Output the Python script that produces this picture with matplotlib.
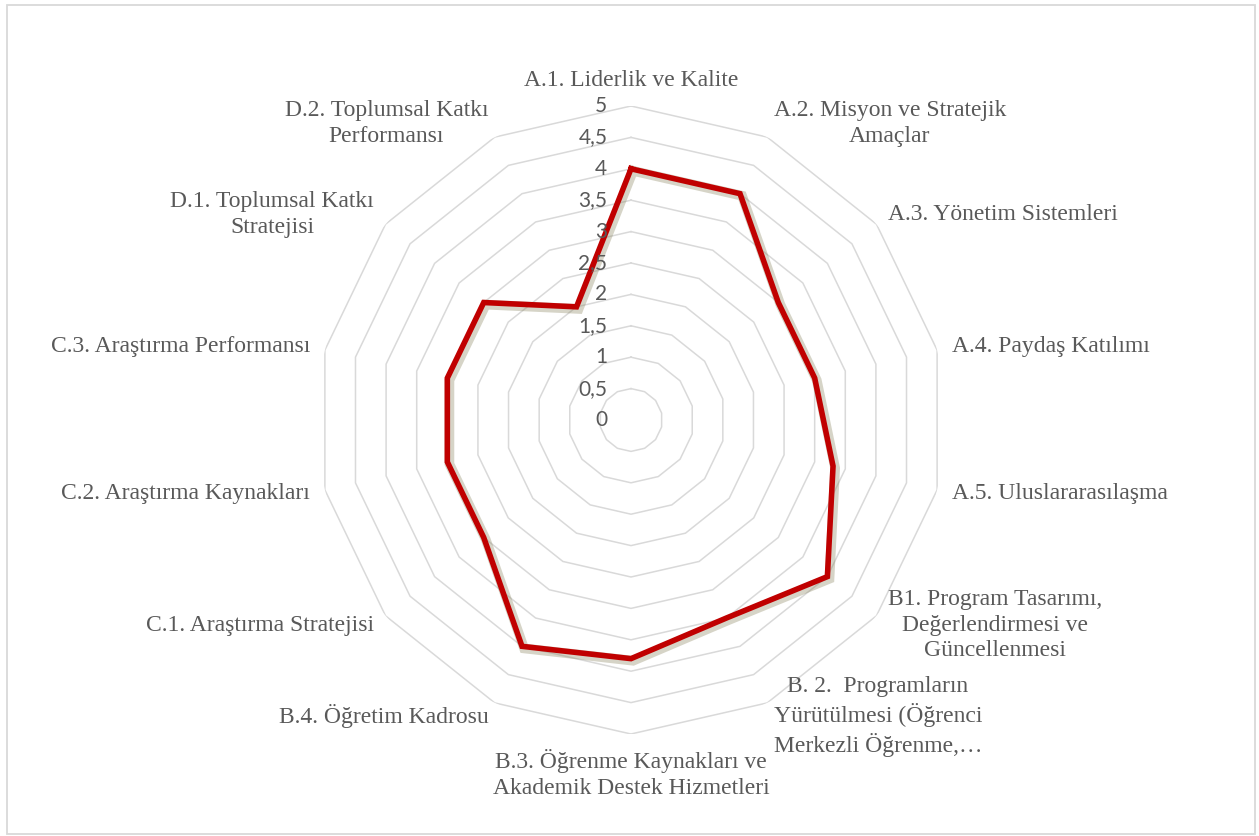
import numpy as np
import matplotlib
matplotlib.use("Agg")
import matplotlib.pyplot as plt
import matplotlib.patheffects as pe
from matplotlib.patches import Rectangle

categories = [
    "A.1. Liderlik ve Kalite",
    "A.2. Misyon ve Stratejik\nAmaçlar",
    "A.3. Yönetim Sistemleri",
    "A.4. Paydaş Katılımı",
    "A.5. Uluslararasılaşma",
    "B1. Program Tasarımı,\nDeğerlendirmesi ve\nGüncellenmesi",
    "B. 2.  Programların\nYürütülmesi (Öğrenci\nMerkezli Öğrenme,…",
    "B.3. Öğrenme Kaynakları ve\nAkademik Destek Hizmetleri",
    "B.4. Öğretim Kadrosu",
    "C.1. Araştırma Stratejisi",
    "C.2. Araştırma Kaynakları",
    "C.3. Araştırma Performansı",
    "D.1. Toplumsal Katkı\nStratejisi",
    "D.2. Toplumsal Katkı\nPerformansı",
]
scores = [4, 4, 3, 3, 3.3, 4, 3.5, 3.8, 4, 3, 3, 3, 3, 2]
ring_levels = [0.5, 1, 1.5, 2, 2.5, 3, 3.5, 4, 4.5, 5]
tick_labels = ["0", "0,5", "1", "1,5", "2", "2,5", "3", "3,5", "4", "4,5", "5"]

W, H = 1259, 836
fig = plt.figure(figsize=(W / 100, H / 100), dpi=100)

# outer frame
fig.patches.append(Rectangle((7 / W, 2 / H), 1248 / W, 829 / H, transform=fig.transFigure,
                             fill=False, edgecolor="#d9d9d9", linewidth=1.3))

cx, cy, rad = 631, 420, 314
ax = fig.add_axes([(cx - rad) / W, 1 - (cy + rad) / H, 2 * rad / W, 2 * rad / H],
                  projection="polar")
ax.set_theta_zero_location("N")
ax.set_theta_direction(-1)
ax.set_ylim(0, 5)
ax.grid(False)
ax.spines["polar"].set_visible(False)
ax.set_xticks([])
ax.set_yticks([])
ax.patch.set_alpha(0)

n = len(categories)
theta = np.linspace(0, 2 * np.pi, n, endpoint=False)
theta_c = np.append(theta, theta[0])

for lv in ring_levels:
    ax.plot(theta_c, [lv] * (n + 1), color="#d9d9d9", linewidth=1.1, zorder=1)

vals = scores + scores[:1]
ax.plot(theta_c, vals, color="#c00000", linewidth=4, solid_joinstyle="miter", zorder=3,
        path_effects=[pe.SimpleLineShadow(offset=(1.5, -1.5), shadow_color="#8a8560",
                                          alpha=0.35, linewidth=7),
                      pe.Normal()])

# radial tick labels
for i, t in enumerate(tick_labels):
    r = i * 0.5
    ax.annotate(t, xy=(0, r), xytext=(-17, 0), textcoords="offset points",
                ha="right", va="center", fontsize=15, color="#595959",
                family="Lato", annotation_clip=False)

# category labels
for th, lab in zip(theta, categories):
    s, c = np.sin(th), np.cos(th)
    off = 15 * 0.72
    if abs(s) < 0.01:
        ha = "center"
        va = "bottom" if c > 0 else "top"
    else:
        ha = "left" if s > 0 else "right"
        va = "center"
    ax.annotate(lab, xy=(th, 5), xytext=(off * s, off * c), textcoords="offset points",
                ha=ha, va=va, multialignment="center", fontsize=17, color="#595959",
                family="Liberation Serif", linespacing=1.3, annotation_clip=False)

fig.savefig("out.png", dpi=100, facecolor="white")
